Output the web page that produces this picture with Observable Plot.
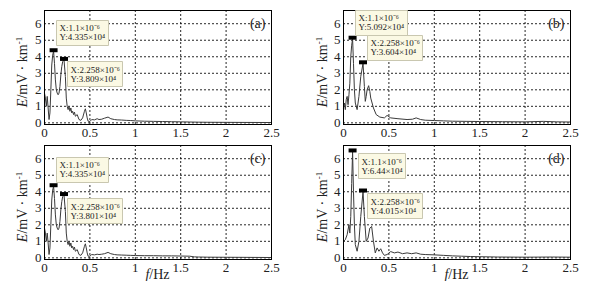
<!DOCTYPE html>
<html><head><meta charset="utf-8">
<script src="https://cdn.jsdelivr.net/npm/d3@7"></script>
<script src="https://cdn.jsdelivr.net/npm/@observablehq/plot@0.6"></script>
<style>
body{margin:0;background:#fff;}
#wrap{position:relative;width:601px;height:281px;font-family:"Times New Roman","Liberation Serif",Tinos,serif;color:#222;}
.panel{position:absolute;}
.ylab{position:absolute;transform:translate(-50%,-50%) rotate(-90deg);white-space:nowrap;font-size:14px;}
.xlab{position:absolute;transform:translate(-50%,-50%);white-space:nowrap;font-size:14px;}
sup{font-size:9px;vertical-align:5px;line-height:0;}
</style></head>
<body><div id="wrap"></div>
<script>
// ---- data ----
const panelNames = ["(a)", "(b)", "(c)", "(d)"];
const xTicks = [0, 0.5, 1, 1.5, 2, 2.5];
const yTicks = [0, 1, 2, 3, 4, 5, 6];

const freqA = [0,0.01,0.02,0.03,0.04,0.05,0.06,0.07,0.08,0.09,0.1,0.11,0.12,0.13,0.14,0.15,0.16,0.17,0.18,0.19,0.2,0.215,0.23,0.24,0.25,0.26,0.27,0.28,0.29,0.3,0.31,0.32,0.33,0.34,0.36,0.38,0.4,0.42,0.44,0.45,0.46,0.47,0.48,0.5,0.52,0.55,0.58,0.6,0.63,0.66,0.7,0.73,0.77,0.8,0.85,0.9,0.95,1.0,1.1,1.2,1.3,1.4,1.5,1.6,1.7,1.8,2.0,2.2,2.5];
const energyA = [1.8,1.5,1.0,1.6,0.9,0.2,0.6,2.0,3.5,4.1,4.335,3.6,2.6,2.0,1.8,1.7,1.8,2.2,2.9,3.4,3.7,3.809,2.8,1.5,1.0,0.8,1.0,0.7,0.9,0.6,0.7,0.5,0.65,0.4,0.5,0.2,0.15,0.3,0.7,0.85,0.6,0.3,0.1,0.08,0.2,0.18,0.25,0.2,0.22,0.28,0.35,0.25,0.2,0.18,0.17,0.15,0.14,0.12,0.1,0.09,0.08,0.07,0.06,0.05,0.04,0.035,0.03,0.025,0.02];

const freqB = [0,0.01,0.02,0.03,0.04,0.05,0.06,0.07,0.08,0.09,0.1,0.11,0.12,0.13,0.15,0.17,0.19,0.215,0.23,0.24,0.25,0.26,0.277,0.29,0.3,0.33,0.36,0.4,0.45,0.48,0.52,0.6,0.7,0.76,0.8,0.85,0.9,1.0,1.1,1.2,1.35,1.5,1.75,2.0,2.2,2.35,2.5];
const energyB = [0.9,1.2,0.8,1.4,1.6,1.1,1.7,2.4,4.0,4.7,5.092,3.6,2.0,1.2,0.8,1.6,2.8,3.604,2.2,1.3,1.6,2.0,2.25,1.9,1.5,0.9,0.5,0.35,0.3,0.45,0.3,0.25,0.2,0.22,0.3,0.2,0.16,0.14,0.12,0.1,0.09,0.08,0.07,0.06,0.09,0.06,0.05];

const freqC = [0,0.01,0.02,0.03,0.04,0.05,0.06,0.07,0.08,0.09,0.1,0.11,0.12,0.13,0.14,0.15,0.16,0.17,0.18,0.19,0.2,0.215,0.23,0.24,0.25,0.26,0.27,0.28,0.29,0.3,0.31,0.32,0.33,0.34,0.36,0.38,0.4,0.42,0.44,0.45,0.46,0.47,0.48,0.5,0.52,0.55,0.58,0.6,0.63,0.66,0.7,0.73,0.77,0.8,0.85,0.9,0.95,1.0,1.1,1.2,1.3,1.4,1.5,1.6,1.65,1.7,1.8,2.0,2.2,2.5];
const energyC = [1.8,1.5,1.0,1.5,0.9,0.2,0.6,2.0,3.5,4.1,4.335,3.6,2.6,2.0,1.8,1.7,1.8,2.2,2.9,3.4,3.7,3.801,2.8,1.5,1.0,0.8,1.0,0.7,0.9,0.6,0.7,0.5,0.65,0.4,0.5,0.2,0.15,0.3,0.7,0.85,0.6,0.3,0.1,0.1,0.2,0.18,0.22,0.2,0.22,0.25,0.33,0.25,0.2,0.18,0.17,0.16,0.15,0.14,0.13,0.13,0.12,0.12,0.11,0.1,0.06,0.05,0.04,0.035,0.03,0.02];

const freqD = [0,0.02,0.04,0.06,0.07,0.08,0.09,0.1,0.11,0.12,0.13,0.15,0.17,0.19,0.215,0.23,0.25,0.27,0.29,0.31,0.33,0.35,0.37,0.39,0.41,0.43,0.45,0.48,0.52,0.56,0.6,0.65,0.7,0.75,0.8,0.85,0.9,1.0,1.1,1.2,1.3,1.4,1.5,1.7,2.0,2.3,2.5];
const energyD = [1.0,1.1,1.4,2.0,1.5,2.5,4.5,6.44,4.0,2.0,0.8,0.4,1.0,2.5,4.015,2.5,1.0,1.2,1.8,1.9,1.0,0.3,0.6,0.4,0.55,0.3,0.15,0.2,0.38,0.3,0.35,0.25,0.3,0.25,0.3,0.22,0.2,0.18,0.15,0.12,0.1,0.08,0.07,0.05,0.04,0.05,0.04];

const peakFreqs = [[0.1, 0.215], [0.1, 0.215], [0.1, 0.215], [0.1, 0.215]];
const peakValues = [[4.335, 3.809], [5.092, 3.604], [4.335, 3.801], [6.44, 4.015]];
const peakXLabels = ["X:1.1×10⁻⁶", "X:2.258×10⁻⁶"];
const peakYLabels = [
  ["Y:4.335×10⁴", "Y:3.809×10⁴"],
  ["Y:5.092×10⁴", "Y:3.604×10⁴"],
  ["Y:4.335×10⁴", "Y:3.801×10⁴"],
  ["Y:6.44×10⁴", "Y:4.015×10⁴"]
];

// ---- layout (styles / positions) ----
const FONT = '"Times New Roman", "Liberation Serif", Tinos, serif';
const series = [[freqA, energyA], [freqB, energyB], [freqC, energyC], [freqD, energyD]];
const layout = [
  {left: 0,   top: 0,   height: 140, mt: 10, mb: 16, ml: 44, mr: 29, tips: [["bottom-left", 3, -6], ["top-left", 3, 2]]},
  {left: 300, top: 0,   height: 140, mt: 10, mb: 16, ml: 43, mr: 30, tips: [["bottom-left", 3, -3], ["bottom-left", 4, -3]]},
  {left: 0,   top: 140, height: 141, mt: 5,  mb: 22, ml: 44, mr: 29, tips: [["bottom-left", 3, -4], ["top-left", 3, 3]]},
  {left: 300, top: 140, height: 141, mt: 5,  mb: 22, ml: 43, mr: 30, tips: [["top-left", 6, 2], ["top-left", 4, 2]]}
];

const marker = {draw(ctx) { ctx.rect(-4, -2, 8, 4); }};
const wrap = document.getElementById("wrap");

layout.forEach((L, i) => {
  const [fx, ey] = series[i];
  const data = fx.map((f, k) => ({f, e: ey[k]}));
  const peaks = peakFreqs[i].map((f, k) => ({
    f, e: peakValues[i][k], label: peakXLabels[k] + "\n" + peakYLabels[i][k]
  }));
  const marks = [
    Plot.gridX(xTicks.slice(1, -1), {stroke: "#000", strokeOpacity: 0.85, strokeDasharray: "2,2"}),
    Plot.gridY(yTicks, {stroke: "#000", strokeOpacity: 0.85, strokeDasharray: "2,2"}),
    Plot.line(data, {x: "f", y: "e", stroke: "#3a3a3a", strokeWidth: 1}),
    Plot.frame({stroke: "#000", strokeWidth: 1}),
    Plot.axisX({ticks: xTicks, tickSize: 0, tickPadding: 3, fontSize: 13, label: null, tickFormat: d => String(d), fontFamily: FONT}),
    Plot.axisY({ticks: yTicks, tickSize: 0, tickPadding: 3, fontSize: 13, label: null, tickFormat: d => String(d), fontFamily: FONT}),
    Plot.dot(peaks, {x: "f", y: "e", symbol: marker, r: 4, fill: "#000", stroke: null, dy: -1}),
    Plot.text([panelNames[i]], {frameAnchor: "top-right", dx: -6, dy: 8, fontSize: 14, fill: "#222", fontFamily: FONT})
  ];
  peaks.forEach((p, k) => {
    const [anchor, dx, dy] = L.tips[k];
    marks.push(Plot.tip([p], {
      x: "f", y: "e", title: "label", anchor, dx, dy, pointerSize: 0,
      fill: "#fbf9e4", stroke: "#c9c7b0", strokeWidth: 1,
      fontSize: 9, fontFamily: FONT, lineHeight: 1.0, textPadding: 3,
      pathFilter: "none"
    }));
  });
  const chart = Plot.plot({
    width: 300, height: L.height,
    marginTop: L.mt, marginBottom: L.mb, marginLeft: L.ml, marginRight: L.mr,
    x: {domain: [0, 2.5]},
    y: {domain: [-0.1, 6.8]},
    style: {fontFamily: FONT, fontSize: "13px", color: "#222", background: "transparent", overflow: "visible"},
    marks
  });
  const div = document.createElement("div");
  div.className = "panel";
  div.style.left = L.left + "px";
  div.style.top = L.top + "px";
  div.appendChild(chart);
  wrap.appendChild(div);

  const yl = document.createElement("div");
  yl.className = "ylab";
  yl.innerHTML = "<i>E</i>/mV · km<sup>-1</sup>";
  yl.style.left = (L.left + 23) + "px";
  yl.style.top = (L.top + L.mt + 62) + "px";
  wrap.appendChild(yl);

  if (L.top > 0) {
    const xl = document.createElement("div");
    xl.className = "xlab";
    xl.innerHTML = "<i>f</i>/Hz";
    xl.style.left = (L.left + L.ml + (300 - L.ml - L.mr) / 2) + "px";
    xl.style.top = (L.top + 135) + "px";
    wrap.appendChild(xl);
  }
});
</script>
</body></html>
